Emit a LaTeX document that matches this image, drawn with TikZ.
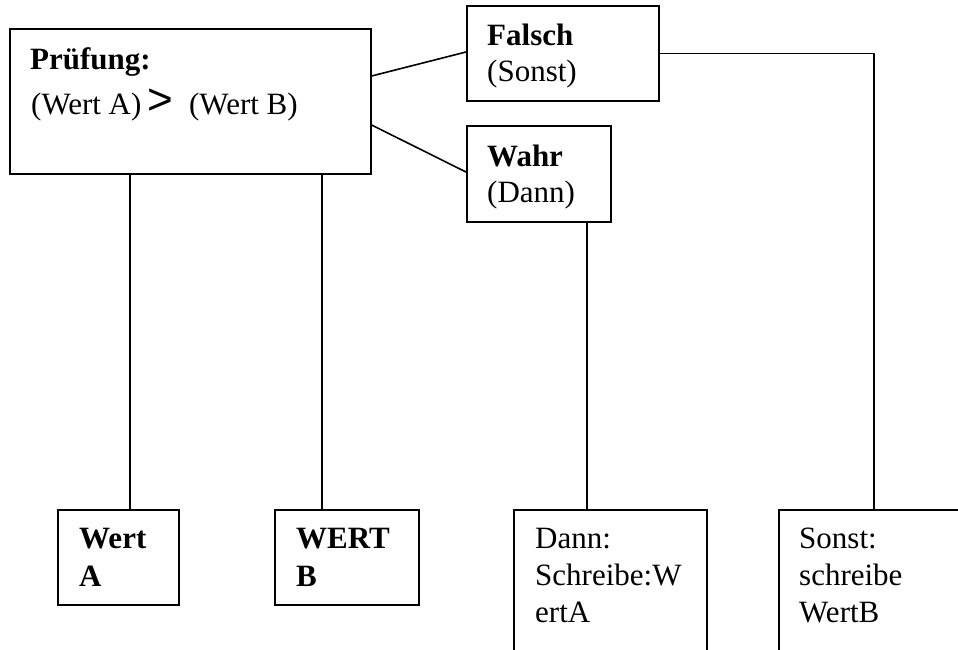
\documentclass[tikz,border=0pt]{standalone}
\usepackage{fontspec}
\setmainfont{Liberation Serif}
\newfontfamily\gtfont{Liberation Sans}
\usetikzlibrary{calc}
\tikzset{
  box/.style={draw, line width=1.6pt, rectangle, inner sep=0pt, anchor=north west},
  txt/.style={anchor=base west, inner sep=0pt, font=\fontsize{31}{36}\selectfont},
  conn/.style={line width=1.6pt},
}
\begin{document}
\begin{tikzpicture}[x=1pt, y=-1pt]
\useasboundingbox (0,0) rectangle (958,649);
\clip (0,0) rectangle (958,649);
% boxes
\node[box, minimum width=361pt, minimum height=145pt] (pruef) at (9,28) {};
\node[box, minimum width=192pt, minimum height=95pt] (falsch) at (466,5) {};
\node[box, minimum width=144pt, minimum height=96pt] (wahr) at (466,125) {};
\node[box, minimum width=121pt, minimum height=95pt] (werta) at (57,509) {};
\node[box, minimum width=144pt, minimum height=95pt] (wertb) at (274,509) {};
\node[box, minimum width=193pt, minimum height=200pt] (dann) at (513,509) {};
\node[box, minimum width=240pt, minimum height=200pt] (sonst) at (778,509) {};
% texts
\node[txt] (t1) at (30,69) {\bfseries Prüfung:};
\node[txt] (t2) at (31,114) {(Wert A)\hspace{6pt}{\gtfont\fontsize{44}{44}\selectfont >}\hspace{16pt}(Wert B)};
\node[txt] (t3) at (487,45) {\bfseries Falsch};
\node[txt] (t4) at (487,81) {(Sonst)};
\node[txt] (t5) at (487,166) {\bfseries Wahr};
\node[txt] (t6) at (487,202) {(Dann)};
\node[txt] (t7) at (79,548) {\bfseries Wert};
\node[txt] (t8) at (79,586) {\bfseries A};
\node[txt] (t9) at (296,548) {\bfseries WERT};
\node[txt] (t10) at (296,586) {\bfseries B};
\node[txt] (t11) at (535,548) {Dann:};
\node[txt] (t12) at (535,585) {Schreibe:W};
\node[txt] (t13) at (535,622) {ertA};
\node[txt] (t14) at (799,548) {Sonst:};
\node[txt] (t15) at (799,585) {schreibe};
\node[txt] (t16) at (799,622) {WertB};
% connectors
\draw[conn] ([yshift=-48pt]pruef.north east) -- ([yshift=-47pt]falsch.north west);
\draw[conn] ([yshift=-97pt]pruef.north east) -- ([yshift=-47pt]wahr.north west);
\draw[conn] (falsch.east) -| ([xshift=96pt]sonst.north west);
\draw[conn] ([xshift=121pt]wahr.south west) -- ([xshift=74pt]dann.north west);
\draw[conn] ([xshift=121pt]pruef.south west) -- ([xshift=73pt]werta.north west);
\draw[conn] ([xshift=313pt]pruef.south west) -- ([xshift=48pt]wertb.north west);
\end{tikzpicture}
\end{document}
